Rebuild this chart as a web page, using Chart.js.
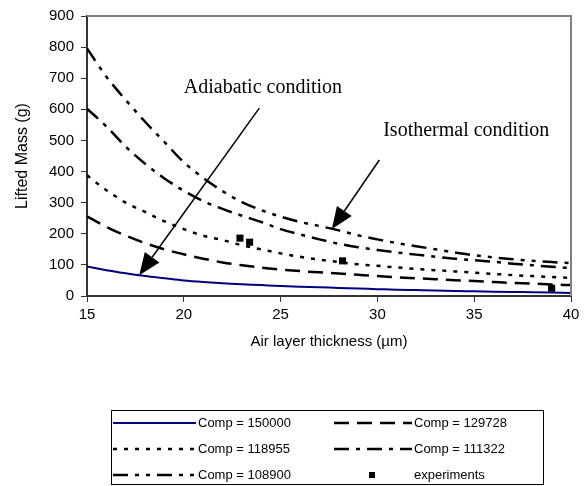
<!DOCTYPE html>
<html>
<head>
<meta charset="utf-8">
<script src="https://cdn.jsdelivr.net/npm/chart.js@4"></script>
<style>
  html, body { margin: 0; padding: 0; background: #fff; }
  #wrap { width: 587px; height: 486px; }
</style>
</head>
<body>
<div id="wrap"><canvas id="liftChart" width="587" height="486"></canvas></div>
<script>
// air layer thickness (µm)
const thickness = [15, 16, 17, 18, 19, 20, 21, 22, 23, 24, 25, 26, 27, 28, 29, 30, 31, 32, 33, 34, 35, 36, 37, 38, 39, 40];

// lifted mass (g) per compressibility value
const comp150000 = [95, 83, 73, 64, 57, 50, 45, 41, 38, 35, 32, 30, 28, 26, 24, 22, 20, 19, 18, 16, 15, 14, 13, 12, 11, 10];
const comp129728 = [256, 222, 194, 170, 150, 134, 120, 108, 99, 91, 85, 80, 76, 72, 68, 64, 60, 57, 54, 51, 48, 45, 42, 40, 37, 35];
const comp118955 = [388, 340, 300, 270, 240, 215, 194, 180, 163, 150, 137, 126, 117, 109, 102, 97, 92, 87, 83, 79, 75, 71, 67, 64, 61, 58];
const comp111322 = [602, 545, 480, 425, 378, 338, 305, 280, 258, 238, 215, 198, 182, 168, 157, 148, 140, 133, 126, 120, 115, 110, 104, 99, 94, 90];
const comp108900 = [796, 705, 630, 560, 495, 430, 380, 337, 302, 276, 255, 238, 225, 211, 195, 182, 170, 160, 150, 140, 131, 124, 118, 113, 109, 106];

// measured points
const expThickness = [22.9, 23.4, 28.2, 39.0];
const expMass = [186, 173, 113, 25];

const xTicks = [15, 20, 25, 30, 35, 40];
const yTicks = [0, 100, 200, 300, 400, 500, 600, 700, 800, 900];

const toPoints = (xs, ys) => xs.map((x, i) => ({ x: x, y: ys[i] }));

const seriesDefs = [
  { label: 'Comp = 150000', data: comp150000, color: '#000080', width: 2, dash: [] },
  { label: 'Comp = 129728', data: comp129728, color: '#000', width: 2.5, dash: [15, 8] },
  { label: 'Comp = 118955', data: comp118955, color: '#000', width: 2.5, dash: [4, 7] },
  { label: 'Comp = 111322', data: comp111322, color: '#000', width: 2.5, dash: [15, 7, 4, 7] },
  { label: 'Comp = 108900', data: comp108900, color: '#000', width: 2.5, dash: [15, 7, 4, 7, 4, 7] },
];

const datasets = seriesDefs.map((s) => ({
  label: s.label,
  data: toPoints(thickness, s.data),
  showLine: true,
  borderColor: s.color,
  backgroundColor: s.color,
  borderWidth: s.width,
  borderDash: s.dash,
  pointRadius: 0,
  fill: false,
  cubicInterpolationMode: 'monotone',
}));
datasets.push({
  label: 'experiments',
  data: toPoints(expThickness, expMass),
  showLine: false,
  pointStyle: 'rect',
  pointRadius: 5,
  pointBackgroundColor: '#000',
  pointBorderColor: '#000',
  pointBorderWidth: 0,
});

const sans = 'Liberation Sans, Arial, sans-serif';

// frame (top/right), annotations and boxed legend
const extras = {
  id: 'extras',
  afterDraw(chart) {
    const ctx = chart.ctx;
    const a = chart.chartArea;
    const xs = chart.scales.x;
    const ys = chart.scales.y;
    ctx.save();
    ctx.strokeStyle = '#808080';
    ctx.lineWidth = 2;
    ctx.beginPath();
    ctx.moveTo(a.left, a.top);
    ctx.lineTo(a.right, a.top);
    ctx.lineTo(a.right, a.bottom);
    ctx.stroke();

    // annotation arrows
    const arrow = (x1, y1, x2, y2) => {
      const p1 = [xs.getPixelForValue(x1), ys.getPixelForValue(y1)];
      const p2 = [xs.getPixelForValue(x2), ys.getPixelForValue(y2)];
      const ang = Math.atan2(p2[1] - p1[1], p2[0] - p1[0]);
      const hl = 22, hw = 9;
      const bx = p2[0] - hl * Math.cos(ang), by = p2[1] - hl * Math.sin(ang);
      ctx.strokeStyle = '#000';
      ctx.lineWidth = 1.5;
      ctx.setLineDash([]);
      ctx.beginPath();
      ctx.moveTo(p1[0], p1[1]);
      ctx.lineTo(bx, by);
      ctx.stroke();
      ctx.fillStyle = '#000';
      ctx.beginPath();
      ctx.moveTo(p2[0], p2[1]);
      ctx.lineTo(bx + hw * Math.sin(ang), by - hw * Math.cos(ang));
      ctx.lineTo(bx - hw * Math.sin(ang), by + hw * Math.cos(ang));
      ctx.closePath();
      ctx.fill();
    };
    arrow(23.9, 604, 17.7, 67);
    arrow(30.1, 437, 27.65, 215);

    ctx.fillStyle = '#000';
    ctx.font = '20px "Liberation Serif", "Times New Roman", serif';
    ctx.textBaseline = 'middle';
    ctx.textAlign = 'left';
    ctx.fillText('Adiabatic condition', xs.getPixelForValue(20.0), ys.getPixelForValue(668));
    ctx.fillText('Isothermal condition', xs.getPixelForValue(30.3), ys.getPixelForValue(530));

    // legend box
    const box = { left: 111, top: 410, right: 543, bottom: 484 };
    ctx.strokeStyle = '#000';
    ctx.lineWidth = 1;
    ctx.strokeRect(box.left + 0.5, box.top + 0.5, box.right - box.left, box.bottom - box.top);
    const items = chart.data.datasets;
    const cols = [{ x0: 113, x1: 196 }, { x0: 334, x1: 412 }];
    const rowY = [423, 449, 475];
    ctx.font = '13px ' + sans;
    items.forEach((ds, i) => {
      const col = cols[i % 2];
      const y = rowY[Math.floor(i / 2)];
      if (ds.showLine === false) {
        ctx.fillStyle = '#000';
        ctx.fillRect(369, y - 3, 6, 6);
      } else {
        ctx.strokeStyle = ds.borderColor;
        ctx.lineWidth = ds.borderWidth;
        ctx.setLineDash(ds.borderDash);
        ctx.beginPath();
        ctx.moveTo(col.x0, y);
        ctx.lineTo(col.x1, y);
        ctx.stroke();
        ctx.setLineDash([]);
      }
      ctx.fillStyle = '#000';
      ctx.textAlign = 'left';
      ctx.fillText(ds.label, col.x1 + 2, y);
    });
    ctx.restore();
  },
};

new Chart(document.getElementById('liftChart'), {
  type: 'scatter',
  data: { datasets: datasets },
  options: {
    responsive: false,
    animation: false,
    events: [],
    layout: { padding: { left: 0, top: 16, right: 16, bottom: 134 } },
    plugins: {
      legend: { display: false },
      tooltip: { enabled: false },
    },
    scales: {
      x: {
        type: 'linear',
        min: 15,
        max: 40,
        afterBuildTicks: (axis) => { axis.ticks = xTicks.map((v) => ({ value: v })); },
        afterFit: (axis) => { axis.height = 56; },
        ticks: { color: '#000', font: { family: sans, size: 15 }, padding: 4, maxRotation: 0 },
        grid: { drawOnChartArea: false, drawTicks: true, tickLength: 6, color: '#333', lineWidth: 1 },
        border: { color: '#333', width: 2 },
        title: { display: true, text: 'Air layer thickness (µm)', color: '#000', font: { family: sans, size: 15 }, padding: { top: 0, bottom: 1 } },
      },
      y: {
        type: 'linear',
        min: 0,
        max: 900,
        afterBuildTicks: (axis) => { axis.ticks = yTicks.map((v) => ({ value: v })); },
        afterFit: (axis) => { axis.width = 87; },
        ticks: { color: '#000', font: { family: sans, size: 15 }, padding: 7 },
        grid: { drawOnChartArea: false, drawTicks: true, tickLength: 6, color: '#333', lineWidth: 1 },
        border: { color: '#333', width: 2 },
        title: { display: true, text: 'Lifted Mass (g)', color: '#000', font: { family: sans, size: 16 }, padding: { top: 13, bottom: 0 } },
      },
    },
  },
  plugins: [extras],
});
</script>
</body>
</html>
